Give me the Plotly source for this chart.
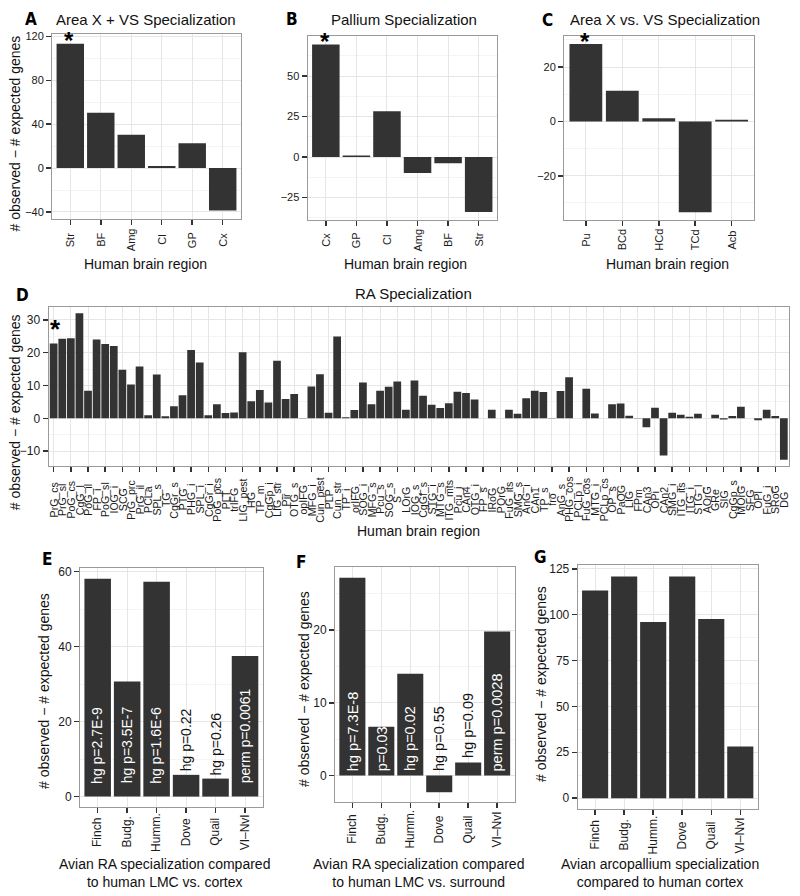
import plotly.graph_objects as go

# ---------------- data ----------------
a_regions = ["Str", "BF", "Amg", "Cl", "GP", "Cx"]
a_values = [113.5, 50.4, 30.5, 1.8, 22.6, -38.6]

b_regions = ["Cx", "GP", "Cl", "Amg", "BF", "Str"]
b_values = [69.5, 1.0, 28.3, -9.8, -3.9, -34.0]

c_regions = ["Pu", "BCd", "HCd", "TCd", "Acb"]
c_values = [28.5, 11.3, 1.2, -33.4, 0.6]

d_regions = [
    "PrG_cs", "PrG_sl", "PoG_cs", "CgG_l", "PoG_il", "FP_i", "PoG_sl", "IOG_i", "SCG", "PrG_prc",
    "PrG_il", "PCLa", "SPL_s", "TG", "CgGr_s", "PTG", "PHG_i", "SPL_i", "CgGr_i", "PoG_pcs",
    "PLT", "trIFG", "LIG_pest", "HG", "TP_m", "CgGp_i", "LIG_str", "Pir", "OTG_s", "opIFG",
    "MFG_i", "Cun_pest", "PLP", "Cun_str", "TP_i", "orIFG", "SOG_i", "MFG_s", "Pcu_s", "SOG_s",
    "S", "LOrG", "IOG_s", "CgGf_s", "STG_i", "MTG_s", "ITG_mts", "Pcu_i", "CAn4", "OTG_i",
    "FP_s", "IRoG", "POrG", "FuG_its", "SMG_s", "AnG_i", "CAn1", "TP_s", "fro", "AnG_s",
    "PHG_cos", "PCLp_i", "FuG_cos", "MTG_i", "PCLp_cs", "OP_s", "PaOG", "LIG", "FPm", "CAn3",
    "OPi", "CAn2", "SMG_i", "ITG_its", "ITG_i", "STG_l", "AOrG", "GRe", "SIG", "CgGp_s",
    "MOrG", "SFG", "OPl", "FuG_i", "SRoG", "DG",
]
d_values = [
    22.8, 24.2, 24.4, 32.0, 8.4, 24.0, 22.6, 22.0, 14.8, 10.3,
    15.8, 0.9, 13.3, 0.6, 3.7, 7.0, 20.8, 17.0, 0.9, 4.3,
    1.6, 1.8, 20.1, 5.2, 8.6, 4.8, 17.5, 5.9, 7.4, 0.1,
    9.7, 13.4, 1.7, 24.9, 0.3, 2.5, 10.9, 4.3, 8.4, 9.6,
    11.2, 2.6, 11.5, 6.9, 4.1, 3.1, 4.6, 8.1, 7.7, 5.7,
    0.0, 2.6, 0.0, 2.6, 1.4, 6.1, 8.4, 8.0, 0.1, 8.3,
    12.5, 0.0, 9.0, 1.5, 0.0, 4.3, 4.5, 0.8, 0.1, -2.7,
    3.2, -11.3, 1.7, 1.1, 0.5, 1.4, 0.0, 1.1, -0.4, 0.7,
    3.5, 0.0, -0.6, 2.6, 0.7, -12.6,
]

species = ["Finch", "Budg.", "Humm.", "Dove", "Quail", "VI\u2013NvI"]
e_values = [58.1, 30.7, 57.3, 5.8, 4.8, 37.5]
e_labels = ["hg p=2.7E-9", "hg p=3.5E-7", "hg p=1.6E-6", "hg p=0.22", "hg p=0.26", "perm p=0.0061"]
f_values = [27.2, 6.7, 14.0, -2.3, 1.8, 19.8]
f_labels = ["hg p=7.3E-8", "p=0.03", "hg p=0.02", "hg p=0.55", "hg p=0.09", "perm p=0.0028"]
g_values = [113.2, 120.8, 96.0, 120.8, 97.7, 28.2]

# ---------------- styling ----------------
W, H = 800, 896
FONT = "Liberation Sans, Arial, Helvetica, sans-serif"
LETTER_FONT = "Liberation Sans Narrow, DejaVu Sans Condensed, Liberation Sans, sans-serif"
BAR = "#333333"
TXT = "#1a1a1a"
YTITLE = "# observed \u2212 # expected genes"


def px(x):
    return x / W


def py(y):
    return 1 - y / H


panels = [
    dict(cats=a_regions, vals=a_values, box=(52, 241, 30.5, 215.7), yr=(-46.2, 122), dtick=40,
         yfs=11, xfs=11, laby=237, title="Area X + VS Specialization", tpos=(146, 16),
         letter="A", lpos=(31, 15), xt="Human brain region", xtpos=(145, 261),
         yt=True, ytpos=(15, 130), star=True),
    dict(cats=b_regions, vals=b_values, box=(307.5, 497, 32.3, 217), yr=(-38.9, 74.6), dtick=25,
         yfs=11, xfs=11, laby=237, title="Pallium Specialization", tpos=(404, 16),
         letter="B", lpos=(292, 15), xt="Human brain region", xtpos=(405, 261),
         yt=False, star=True),
    dict(cats=c_regions, vals=c_values, box=(564, 753.5, 32.3, 217), yr=(-36.3, 31.4), dtick=20,
         yfs=11, xfs=11, laby=237, title="Area X vs. VS Specialization", tpos=(665, 16),
         letter="C", lpos=(547, 16), xt="Human brain region", xtpos=(667, 261),
         yt=False, star=True),
    dict(cats=d_regions, vals=d_values, box=(48.5, 789, 304, 464), yr=(-14.5, 34), dtick=10,
         yfs=12, xfs=10.6, laby=498, title="RA Specialization", tpos=(414, 291),
         letter="D", lpos=(22, 292), xt="Human brain region", xtpos=(418, 529),
         yt=True, ytpos=(15, 410), star=True),
    dict(cats=species, vals=e_values, box=(80, 262.7, 566.7, 806.7), yr=(-2.8, 60.9), dtick=20,
         yfs=12, xfs=12, laby=832, title=None,
         letter="E", lpos=(47, 557), xt="Avian RA specialization compared<br>to human LMC vs. cortex",
         xtpos=(164, 873), yt=True, ytpos=(44, 690), star=False,
         plabels=e_labels, pfs=14, inside_min=10, base=2.9),
    dict(cats=species, vals=f_values, box=(335, 514.5, 566, 801.7), yr=(-3.66, 28.6), dtick=10,
         yfs=12, xfs=12, laby=829, title=None,
         letter="F", lpos=(301, 560), xt="Avian RA specialization compared<br>to human LMC vs. surround",
         xtpos=(418, 873), yt=True, ytpos=(304, 688), star=False,
         plabels=f_labels, pfs=14.5, inside_min=5, base=0.3),
    dict(cats=species, vals=g_values, box=(577.7, 757.7, 563.3, 808.3), yr=(-5.75, 127.2), dtick=25,
         yfs=12, xfs=12, laby=835, title=None,
         letter="G", lpos=(540, 555), xt="Avian arcopallium specialization<br>compared to human cortex",
         xtpos=(660, 872.5), yt=True, ytpos=(541, 683), star=False),
]

fig = go.Figure()
annotations = []
layout = dict(
    width=W, height=H, margin=dict(l=0, r=0, t=0, b=0),
    paper_bgcolor="white", plot_bgcolor="white", showlegend=False,
    bargap=0.1, font=dict(family=FONT, color=TXT),
)

for i, p in enumerate(panels, start=1):
    sfx = "" if i == 1 else str(i)
    xref, yref = "x" + sfx, "y" + sfx
    l, r, t, b = p["box"]
    n = len(p["cats"])
    fig.add_trace(go.Bar(x=p["cats"], y=p["vals"], xaxis=xref, yaxis=yref,
                         marker=dict(color=BAR, line=dict(width=0)), hoverinfo="skip"))
    layout["xaxis" + sfx] = dict(
        domain=[px(l), px(r)], anchor=yref, type="category", range=[-0.6, n - 0.4],
        showgrid=True, gridcolor="#E6E6E6", gridwidth=1,
        ticks="outside", ticklen=5, tickwidth=1.5, tickcolor="#333333",
        showticklabels=False, showline=True, linecolor="#9A9A9A", linewidth=1, mirror=True,
        zeroline=False, fixedrange=True,
    )
    layout["yaxis" + sfx] = dict(
        domain=[py(b), py(t)], anchor=xref, range=list(p["yr"]),
        tickmode="linear", tick0=0, dtick=p["dtick"],
        showgrid=True, gridcolor="#E6E6E6", gridwidth=1,
        minor=dict(dtick=p["dtick"] / 2, tick0=0, showgrid=True, gridcolor="#F4F4F4", ticks=""),
        ticks="outside", ticklen=5, tickwidth=1.5, tickcolor="#333333",
        tickfont=dict(size=p["yfs"], color=TXT),
        showline=True, linecolor="#9A9A9A", linewidth=1, mirror=True, zeroline=False,
        fixedrange=True,
    )
    # rotated, centred category labels
    for c in p["cats"]:
        annotations.append(dict(x=c, y=py(p["laby"]), xref=xref, yref="paper", text=c,
                                textangle=-90, showarrow=False, xanchor="center", yanchor="middle",
                                font=dict(size=p["xfs"], color=TXT, family=FONT)))
    # titles
    if p["title"]:
        annotations.append(dict(x=px(p["tpos"][0]), y=py(p["tpos"][1]), xref="paper", yref="paper",
                                text=p["title"], showarrow=False, xanchor="center", yanchor="middle",
                                font=dict(size=15, color="#111111", family=FONT)))
    annotations.append(dict(x=px(p["lpos"][0]), y=py(p["lpos"][1]), xref="paper", yref="paper",
                            text="<b>%s</b>" % p["letter"], showarrow=False, xanchor="center",
                            yanchor="middle", font=dict(size=17, color="#000000", family=LETTER_FONT)))
    annotations.append(dict(x=px(p["xtpos"][0]), y=py(p["xtpos"][1]), xref="paper", yref="paper",
                            text=p["xt"], showarrow=False, xanchor="center", yanchor="middle",
                            font=dict(size=14, color="#111111", family=FONT)))
    if p["yt"]:
        annotations.append(dict(x=px(p["ytpos"][0]), y=py(p["ytpos"][1]), xref="paper", yref="paper",
                                text=YTITLE, textangle=-90, showarrow=False, xanchor="center",
                                yanchor="middle", font=dict(size=14, color="#111111", family=FONT)))
    if p["star"]:
        big = p["letter"] == "D"
        annotations.append(dict(x=p["cats"][0], y=p["vals"][0], xref=xref, yref=yref,
                                text="<b>*</b>", showarrow=False, xanchor="center", yanchor="middle",
                                yshift=14 if big else 3, xshift=2 if big else -1,
                                font=dict(size=26 if big else 24, color="#000000", family=FONT)))
    if "plabels" in p:
        for c, v, s in zip(p["cats"], p["vals"], p["plabels"]):
            inside = v > p["inside_min"]
            yv = p["base"] if inside else max(v, 0) + 0.3
            annotations.append(dict(x=c, y=yv, xref=xref, yref=yref, text=s, textangle=-90,
                                    showarrow=False, xanchor="center", yanchor="bottom",
                                    font=dict(size=p["pfs"], color="white" if inside else "#111111",
                                              family=FONT)))

layout["annotations"] = annotations
fig.update_layout(**layout)
fig.write_html(
    "out.html",
    config={"displayModeBar": False, "staticPlot": True},
    post_script="document.body.style.margin='0';document.body.style.padding='0';",
)
